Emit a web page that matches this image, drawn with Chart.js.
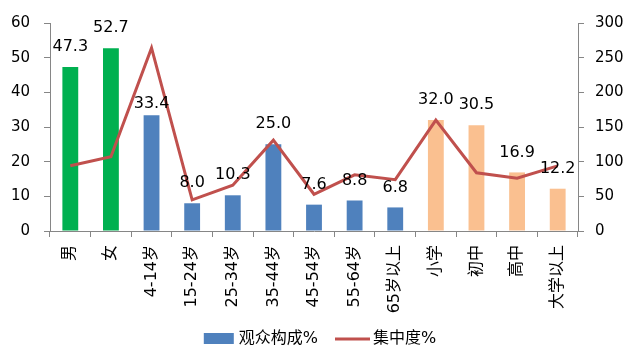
<!DOCTYPE html>
<html>
<head>
<meta charset="utf-8">
<script src="https://cdn.jsdelivr.net/npm/chart.js@4"></script>
<style>
  body { margin: 0; background: #fff; }
  #wrap { width: 640px; height: 353px; position: relative; }
</style>
</head>
<body>
<div id="wrap"><canvas id="audienceChart"></canvas></div>
<script>
const categories = ['男', '女', '4-14岁', '15-24岁', '25-34岁', '35-44岁', '45-54岁', '55-64岁', '65岁以上', '小学', '初中', '高中', '大学以上'];
const composition = [47.3, 52.7, 33.4, 8.0, 10.3, 25.0, 7.6, 8.8, 6.8, 32.0, 30.5, 16.9, 12.2];
const concentration = [94, 107, 264, 45, 66, 131, 53, 81, 74, 160, 84, 76, 94];
const leftTicks = [0, 10, 20, 30, 40, 50, 60];
const rightTicks = [0, 50, 100, 150, 200, 250, 300];

const green = '#00B050';
const blue = '#4F81BD';
const orange = '#FAC090';
const red = '#C0504D';
const axisGrey = '#868686';
const font = '"DejaVu Sans", "Noto Sans CJK SC", sans-serif';

const barColors = categories.map((c, i) => i < 2 ? green : (i < 9 ? blue : orange));

// values above the bars
const barLabels = {
  id: 'barLabels',
  afterDatasetsDraw(chart) {
    const ctx = chart.ctx;
    const meta = chart.getDatasetMeta(1);
    ctx.save();
    ctx.font = '16px ' + font;
    ctx.fillStyle = '#000';
    ctx.textAlign = 'center';
    ctx.textBaseline = 'middle';
    meta.data.forEach((bar, i) => {
      const lift = i === 2 ? 11 : 20;
      ctx.fillText(composition[i].toFixed(1), bar.x, bar.y - lift);
    });
    ctx.restore();
  }
};

// legend at the bottom
const bottomLegend = {
  id: 'bottomLegend',
  afterDraw(chart) {
    const ctx = chart.ctx;
    const ds = chart.data.datasets;
    const y = 339;
    ctx.save();
    ctx.font = '16px ' + font;
    ctx.textBaseline = 'middle';
    ctx.textAlign = 'left';
    const w1 = ctx.measureText(ds[1].label).width;
    const w2 = ctx.measureText(ds[0].label).width;
    const total = 30 + 5 + w1 + 17 + 35 + 3 + w2;
    let x = (chart.width - total) / 2;
    ctx.fillStyle = blue;
    ctx.fillRect(x, y - 6, 30, 11);
    x += 35;
    ctx.fillStyle = '#000';
    ctx.fillText(ds[1].label, x, y);
    x += w1 + 17;
    ctx.strokeStyle = red;
    ctx.lineWidth = 3;
    ctx.beginPath();
    ctx.moveTo(x, y);
    ctx.lineTo(x + 35, y);
    ctx.stroke();
    x += 38;
    ctx.fillText(ds[0].label, x, y);
    ctx.restore();
  }
};

new Chart(document.getElementById('audienceChart').getContext('2d'), {
  type: 'bar',
  data: {
    labels: categories,
    datasets: [
      {
        type: 'line',
        label: '集中度%',
        data: concentration,
        yAxisID: 'y1',
        borderColor: red,
        borderWidth: 3,
        pointRadius: 0,
        tension: 0,
        fill: false,
        order: 0
      },
      {
        type: 'bar',
        label: '观众构成%',
        data: composition,
        yAxisID: 'y',
        backgroundColor: barColors,
        categoryPercentage: 1,
        barPercentage: 0.39,
        order: 1
      }
    ]
  },
  options: {
    responsive: true,
    maintainAspectRatio: false,
    animation: false,
    layout: { padding: { top: 23, left: 0, right: 0, bottom: 0 } },
    plugins: {
      legend: { display: false },
      tooltip: { enabled: false }
    },
    scales: {
      x: {
        grid: { display: true, drawOnChartArea: false, drawTicks: true, tickLength: 6, color: axisGrey, offset: true },
        border: { color: axisGrey },
        ticks: { color: '#000', font: { family: font, size: 16 }, minRotation: 90, maxRotation: 90, padding: 8, autoSkip: false },
        afterFit: s => { s.height = 122; }
      },
      y: {
        position: 'left',
        min: 0,
        max: 60,
        afterBuildTicks: s => { s.ticks = leftTicks.map(v => ({ value: v })); },
        grid: { display: true, drawOnChartArea: false, drawTicks: true, tickLength: 6, color: axisGrey },
        border: { color: axisGrey },
        ticks: { color: '#000', font: { family: font, size: 15 }, padding: 14 },
        afterFit: s => { s.width = 50; }
      },
      y1: {
        position: 'right',
        min: 0,
        max: 300,
        afterBuildTicks: s => { s.ticks = rightTicks.map(v => ({ value: v })); },
        grid: { display: true, drawOnChartArea: false, drawTicks: true, tickLength: 6, color: axisGrey },
        border: { color: axisGrey },
        ticks: { color: '#000', font: { family: font, size: 15 }, padding: 11 },
        afterFit: s => { s.width = 62; }
      }
    }
  },
  plugins: [barLabels, bottomLegend]
});
</script>
</body>
</html>
